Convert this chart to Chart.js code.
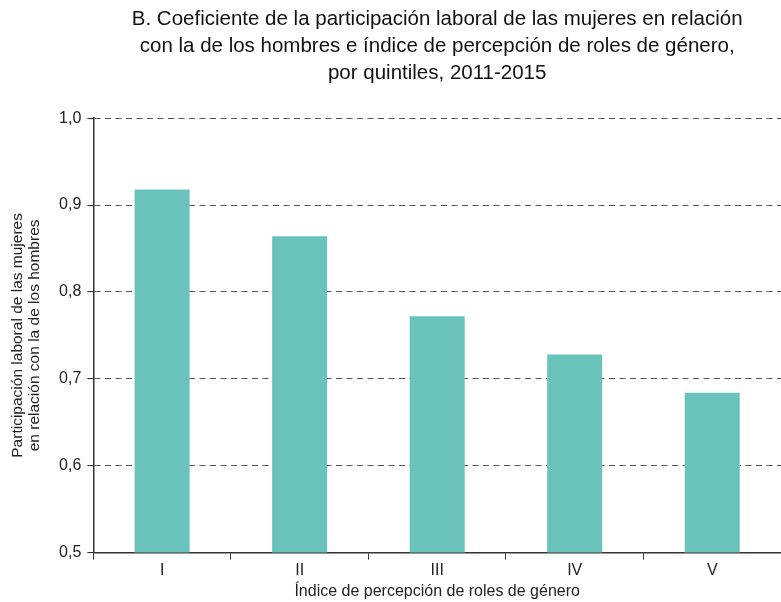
<!DOCTYPE html>
<html>
<head>
<meta charset="utf-8">
<script src="https://cdn.jsdelivr.net/npm/chart.js@4"></script>
<style>
  body { margin: 0; background: #fff; }
  #wrap { width: 781px; height: 602px; }
</style>
</head>
<body>
<div id="wrap"><canvas id="bar-chart"></canvas></div>
<script>
// quintiles of the gender role perception index
var quintiles = ["I", "II", "III", "IV", "V"];
// ratio of female to male labour participation
var ratio = [0.918, 0.864, 0.772, 0.728, 0.684];
var yTicks = [0.5, 0.6, 0.7, 0.8, 0.9, 1.0];

var font = "'Liberation Sans', Arial, sans-serif";

new Chart(document.getElementById("bar-chart"), {
  type: 'bar',
  data: {
    labels: quintiles,
    datasets: [{
      label: "Coeficiente",
      backgroundColor: "#6AC3BB",
      data: ratio,
      barPercentage: 0.4,
      categoryPercentage: 1.0
    }]
  },
  options: {
    responsive: true,
    maintainAspectRatio: false,
    animation: false,
    layout: { padding: { top: 6, right: 0, bottom: 0, left: 9 } },
    plugins: {
      legend: { display: false },
      tooltip: { enabled: false },
      title: {
        display: true,
        fullSize: false,
        text: [
          "B. Coeficiente de la participación laboral de las mujeres en relación",
          "con la de los hombres e índice de percepción de roles de género,",
          "por quintiles, 2011-2015"
        ],
        color: "#111",
        font: { family: font, size: 20.5, weight: 'normal', lineHeight: 1.32 },
        padding: { top: 0, bottom: 31 }
      }
    },
    scales: {
      x: {
        offset: true,
        border: { color: "#333", width: 1.5 },
        grid: { drawOnChartArea: false, drawTicks: true, tickLength: 7, color: "#333", offset: true },
        ticks: { color: "#222", font: { family: font, size: 16 }, padding: 1 },
        title: {
          display: true,
          text: "Índice de percepción de roles de género",
          color: "#222",
          font: { family: font, size: 16 },
          padding: { top: 1, bottom: 1 }
        }
      },
      y: {
        min: 0.5,
        max: 1.0,
        afterBuildTicks: function (axis) {
          axis.ticks = yTicks.map(function (v) { return { value: v }; });
        },
        border: { color: "#333", width: 1.5, dash: [6, 4.5] },
        grid: {
          color: "#555",
          lineWidth: 1.1,
          tickBorderDash: [],
          tickColor: "#333",
          tickLength: 6
        },
        ticks: {
          color: "#222",
          font: { family: font, size: 16 },
          padding: 6,
          callback: function (v) { return v.toFixed(1).replace('.', ','); }
        },
        title: {
          display: true,
          text: ["Participación laboral de las mujeres", "en relación con la de los hombres"],
          color: "#222",
          font: { family: font, size: 15.5, lineHeight: 1.1 },
          padding: { top: 0, bottom: 10 }
        }
      }
    }
  }
});
</script>
</body>
</html>
